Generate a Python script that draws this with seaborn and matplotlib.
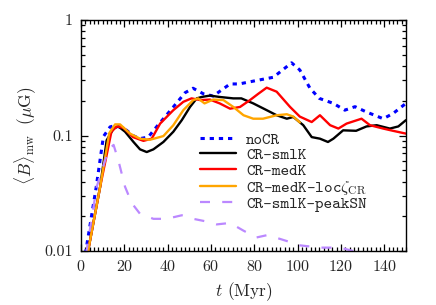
import numpy as np
import pandas as pd
import matplotlib
matplotlib.use("Agg")
import matplotlib.pyplot as plt
import matplotlib.ticker as mticker
import seaborn as sns

# --- data (t in Myr, <B>_mw in muG) ---
t_nocr = [2, 7, 10.3, 13.4, 15.7, 20, 24, 27, 31, 35, 42.6, 48, 51.7, 56.5, 61, 68.8, 73, 81, 88.8, 97.2,
          101, 105.7, 110, 116.5, 121.8, 126.5, 131.8, 139.5, 144, 150]
b_nocr = [0.0095, 0.036, 0.098, 0.119, 0.122, 0.115, 0.1, 0.094, 0.097, 0.12, 0.177, 0.235, 0.257, 0.23, 0.22,
          0.28, 0.28, 0.30, 0.32, 0.427, 0.37, 0.257, 0.21, 0.19, 0.166, 0.178, 0.16, 0.14, 0.155, 0.19]

t_sml = [3, 8.8, 11.8, 15, 17.2, 20.3, 24.2, 27.2, 30.3, 33.4, 38, 42.6, 46.5, 50.3, 53.4, 55.7, 59.5, 64,
         70.3, 74, 79.5, 85.7, 90.3, 95, 98, 102.6, 106.5, 110.3, 114, 116.5, 121, 127, 131.8, 136.5, 142.6,
         146.5, 150]
b_sml = [0.0095, 0.036, 0.091, 0.115, 0.12, 0.108, 0.088, 0.076, 0.072, 0.076, 0.088, 0.108, 0.136, 0.177,
         0.21, 0.216, 0.222, 0.216, 0.21, 0.21, 0.19, 0.166, 0.15, 0.14, 0.145, 0.123, 0.097, 0.094, 0.088,
         0.094, 0.111, 0.11, 0.12, 0.123, 0.115, 0.12, 0.136]

t_med = [3, 8.8, 14, 16.5, 19.5, 24, 28.8, 32.6, 36.5, 42.6, 47.2, 51, 55, 59.5, 64, 68.8, 73.4, 78, 81.8,
         85.7, 90.3, 96.5, 101, 106.5, 110.3, 115, 118.8, 122.6, 129.5, 133.4, 139.5, 144, 150]
b_med = [0.0095, 0.036, 0.108, 0.12, 0.117, 0.097, 0.09, 0.094, 0.127, 0.166, 0.196, 0.21, 0.203, 0.205, 0.19,
         0.171, 0.177, 0.203, 0.23, 0.26, 0.24, 0.177, 0.146, 0.131, 0.15, 0.123, 0.115, 0.127, 0.14, 0.123,
         0.115, 0.11, 0.104]

t_loc = [3, 8.8, 13, 15.7, 18, 22.6, 27.2, 31.8, 38, 42.6, 47.2, 51.8, 54, 57, 61, 65.7, 70.3, 75, 79.5, 84,
         90.3, 95, 98, 101]
b_loc = [0.0095, 0.036, 0.105, 0.125, 0.125, 0.104, 0.094, 0.092, 0.099, 0.123, 0.166, 0.203, 0.21, 0.19,
         0.205, 0.203, 0.177, 0.15, 0.14, 0.14, 0.15, 0.153, 0.146, 0.13]

t_peak = [2.3, 7.2, 12.6, 15, 17.2, 20.3, 23.4, 27.2, 33.4, 39.5, 46.5, 51.8, 58, 62.6, 68.8, 75, 81, 85.7,
          90.3, 95, 101, 110.3, 119.5, 125.7, 132]
b_peak = [0.0095, 0.036, 0.075, 0.083, 0.061, 0.036, 0.026, 0.021, 0.019, 0.019, 0.0204, 0.019, 0.018, 0.017,
          0.0175, 0.015, 0.0131, 0.0137, 0.013, 0.0122, 0.0112, 0.0107, 0.0107, 0.01, 0.0092]

labels = ["noCR", "CR-smlK", "CR-medK", r"CR-medK-loc$\zeta_{\rm CR}$", "CR-smlK-peakSN"]
colors = ["#0000ff", "#000000", "#ff0000", "#ffa500", "#bb88ff"]

series = [(t_nocr, b_nocr), (t_sml, b_sml), (t_med, b_med), (t_loc, b_loc), (t_peak, b_peak)]
styles = [(0, (1.4, 1.6)), "-", "-", "-", (0, (4.5, 5.5))]
widths = [2.2, 1.7, 1.7, 1.7, 1.6]

sns.set_style("ticks")
plt.rcParams["font.family"] = ["cmr10", "DejaVu Serif"]
plt.rcParams["mathtext.fontset"] = "cm"
plt.rcParams["axes.formatter.use_mathtext"] = True
plt.rcParams["axes.unicode_minus"] = False

fig = plt.figure(figsize=(4.36, 3.05), dpi=100)
ax = fig.add_axes([0.186, 0.177, 0.745, 0.757])

for (t, b), lab, c, ls, lw in zip(series, labels, colors, styles, widths):
    df = pd.DataFrame({"t": t, "B": b})
    sns.lineplot(data=df, x="t", y="B", ax=ax, color=c, linestyle=ls, linewidth=lw,
                 label=lab, sort=False, estimator=None)

ax.set_yscale("log")
ax.set_xlim(0, 150)
ax.set_ylim(0.01, 1)
ax.set_xticks([0, 20, 40, 60, 80, 100, 120, 140])
ax.xaxis.set_minor_locator(mticker.MultipleLocator(2))
ax.set_yticks([0.01, 0.1, 1])
ax.set_yticklabels(["0.01", "0.1", "1"])
ax.yaxis.set_minor_locator(mticker.LogLocator(base=10, subs=np.arange(2, 10)))
ax.yaxis.set_minor_formatter(mticker.NullFormatter())

ax.tick_params(which="both", direction="in", top=True, right=True, labelsize=11.5, width=0.9, color="black")
ax.tick_params(which="major", length=5)
ax.tick_params(which="minor", length=2.8)
ax.tick_params(axis="x", which="major", pad=6)
ax.tick_params(axis="y", which="major", pad=6)
for s in ax.spines.values():
    s.set_linewidth(1.0)
    s.set_color("black")

ax.set_xlabel(r"$t$ (Myr)", fontsize=12.5, labelpad=4)
ax.set_ylabel(r"$\langle B\rangle_{\rm mw}\ \ (\mu{\rm G})$", fontsize=12.5, labelpad=4)

leg = ax.legend(loc="upper left", bbox_to_anchor=(0.367, 0.515), frameon=False,
                prop={"family": ["cmtt10", "DejaVu Sans Mono"], "size": 11.8},
                handlelength=2.15, handletextpad=0.65, labelspacing=0.0, borderaxespad=0,
                borderpad=0)

fig.savefig("out.png", dpi=100)
